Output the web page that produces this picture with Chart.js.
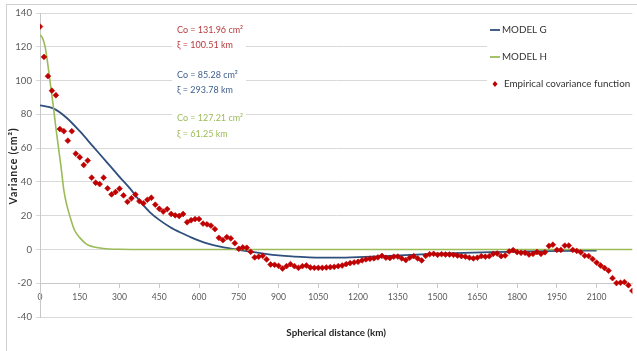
<!DOCTYPE html>
<html>
<head>
<meta charset="utf-8">
<script src="https://cdn.jsdelivr.net/npm/chart.js@4/dist/chart.umd.min.js"></script>
<style>
  html, body { margin: 0; padding: 0; background: #ffffff; }
  #wrap { width: 637px; height: 351px; position: relative; }
</style>
</head>
<body>
<div id="wrap"><canvas id="c" width="637" height="351"></canvas></div>
<script>
// Empirical covariance function: distance (km) and variance (cm^2)
const empDist = [0,15,30,45,60,75,90,105,120,135,150,165,180,195,210,225,240,255,270,285,
  300,315,330,345,360,375,390,405,420,435,450,465,480,495,510,525,540,555,570,585,
  600,615,630,645,660,675,690,705,720,735,750,765,780,795,810,825,840,855,870,885,
  900,915,930,945,960,975,990,1005,1020,1035,1050,1065,1080,1095,1110,1125,1140,1155,1170,1185,
  1200,1215,1230,1245,1260,1275,1290,1305,1320,1335,1350,1365,1380,1395,1410,1425,1440,1455,1470,1485,
  1500,1515,1530,1545,1560,1575,1590,1605,1620,1635,1650,1665,1680,1695,1710,1725,1740,1755,1770,1785,
  1800,1815,1830,1845,1860,1875,1890,1905,1920,1935,1950,1965,1980,1995,2010,2025,2040,2055,2070,2085,
  2100,2115,2130,2145,2160,2175,2190,2205,2220,2235];
const empVar = [131.96,114,102.6,94,91.3,71.3,70,64.4,70,56.7,54.6,50,52.6,42.5,39.5,38.7,42.5,36.2,32.6,34,
  36,32,28.2,30.3,32.5,28.6,27.3,29.4,30.6,26.5,24.1,22.4,23.9,21,20.2,19.8,21,16.1,17.3,18,
  18,15.3,14.9,14.1,12,6.9,5.5,7.3,6.5,3.7,0.4,1.2,1,-1.4,-4.7,-4.3,-3.8,-5.9,-8.9,-9.1,
  -9.7,-11.3,-9.9,-8.7,-9.9,-10.9,-9.9,-9.5,-10.7,-10.9,-10.9,-10.9,-10.7,-10.5,-10.3,-9.9,-9.5,-8.7,-8.1,-7.7,
  -7.3,-6.5,-5.9,-5.5,-5.3,-4.7,-3.8,-4.9,-5.1,-4.3,-4.2,-5.3,-6.3,-4.9,-4,-5.3,-6.5,-3.8,-2.8,-2.6,
  -3.2,-2.8,-3,-3,-3.2,-3.6,-4,-4.3,-4.9,-5.3,-4.9,-4,-4.3,-4,-2.6,-2.4,-4,-3.6,-1.2,-0.4,
  -1.6,-2,-2,-3,-2.6,-1.5,-2.6,-1.7,2.1,2.8,-0.3,-0.3,2.3,2.3,-0.3,-0.9,-1.7,-3.7,-3.9,-5.7,
  -7.8,-9.5,-11,-12.6,-17,-19.9,-19.7,-19.3,-21.2,-24.5];

// MODEL G curve
const gDist = [0,50,100,150,200,250,300,340,380,415,450,490,530,565,600,640,680,720,760,800,
  850,900,950,1000,1050,1100,1150,1200,1300,1400,1500,1600,1700,1800,1900,2000,2100];
const gVar = [85.3,83.5,78,70,61,52,43,36,28,22,17.5,13.3,10,7.5,5.2,3.1,1.6,0.5,-0.5,-1.5,
  -2.6,-3.5,-4.1,-4.5,-4.8,-4.9,-4.8,-4.6,-4.0,-3.2,-2.5,-2.0,-1.6,-1.3,-1.0,-0.8,-0.7];

// MODEL H curve
const hDist = [0,10,20,30,40,50,60,70,80,90,100,115,130,150,175,200,250,300,400,2235];
const hVar = [127.2,125,119.5,109,97,85,72,60,48,35,27,18.5,11.5,7,3.2,1.6,0.4,0.1,0,0];

// Axis ticks
const xTicks = [0,150,300,450,600,750,900,1050,1200,1350,1500,1650,1800,1950,2100];
const yTicks = [-40,-20,0,20,40,60,80,100,120,140];

// Text
const legendLabels = ['MODEL G', 'MODEL H', 'Empirical covariance function'];
const notes = [
  { lines: ['Co = 131.96 cm\u00B2', '\u03BE = 100.51 km'], color: '#b83a3c' },
  { lines: ['Co = 85.28 cm\u00B2', '\u03BE = 293.78 km'], color: '#3f5f8c' },
  { lines: ['Co = 127.21 cm\u00B2', '\u03BE = 61.25 km'], color: '#9bbb59' }
];
const xTitle = 'Spherical distance (km)';
const yTitle = 'Variance (cm\u00B2)';

const BLUE = '#2f4f7c';
const GREEN = '#9bbb59';
const RED = '#c00000';
const FONT = 'Lato, "Open Sans", sans-serif';

const toPts = (xs, ys) => xs.map((x, i) => ({ x: x, y: ys[i] }));

const overlay = {
  id: 'overlay',
  beforeDatasetsDraw(chart) {
    const ctx = chart.ctx;
    ctx.save();
    ctx.fillStyle = '#ffffff';
    const noteY = [[22, 52], [66, 98], [108, 142]];
    noteY.forEach(r => ctx.fillRect(172, r[0], 74, r[1] - r[0]));
    ctx.fillRect(487, 20, 150, 80);
    ctx.restore();
  },
  afterDraw(chart) {
    const ctx = chart.ctx;
    const ca = chart.chartArea;
    ctx.save();
    ctx.strokeStyle = '#d0d0d0';
    ctx.lineWidth = 1;
    ctx.strokeRect(6.5, 4.5, 640, 400);

    ctx.font = '9px ' + FONT;
    ctx.textBaseline = 'middle';
    ctx.textAlign = 'left';
    const lineY = [[30, 45], [75, 90], [118, 134]];
    notes.forEach((n, i) => {
      ctx.fillStyle = n.color;
      ctx.fillText(n.lines[0], 177, lineY[i][0]);
      ctx.fillText(n.lines[1], 177, lineY[i][1]);
    });

    const ly = [30, 57, 84];
    ctx.lineWidth = 1.8;
    ctx.strokeStyle = BLUE;
    ctx.beginPath(); ctx.moveTo(490, ly[0]); ctx.lineTo(500, ly[0]); ctx.stroke();
    ctx.strokeStyle = GREEN;
    ctx.beginPath(); ctx.moveTo(490, ly[1]); ctx.lineTo(500, ly[1]); ctx.stroke();
    ctx.fillStyle = RED;
    ctx.beginPath();
    ctx.moveTo(495, ly[2] - 3); ctx.lineTo(497.5, ly[2]); ctx.lineTo(495, ly[2] + 3); ctx.lineTo(492.5, ly[2]);
    ctx.closePath(); ctx.fill();
    ctx.fillStyle = '#333333';
    ctx.font = '9.8px ' + FONT;
    legendLabels.forEach((t, i) => ctx.fillText(t, i === 2 ? 504 : 502, ly[i]));

    ctx.fillStyle = '#262626';
    ctx.font = 'bold 9.8px ' + FONT;
    ctx.textAlign = 'center';
    ctx.fillText(xTitle, (ca.left + ca.right) / 2, 333);
    ctx.translate(14, 166);
    ctx.rotate(-Math.PI / 2);
    ctx.font = 'bold 10.5px ' + FONT;
    try { ctx.letterSpacing = '0.8px'; } catch (e) {}
    ctx.fillText(yTitle, 0, 0);
    ctx.restore();
  }
};

new Chart(document.getElementById('c'), {
  type: 'scatter',
  data: {
    datasets: [
      {
        label: legendLabels[2],
        data: toPts(empDist, empVar),
        showLine: false,
        pointStyle: 'rectRot',
        pointRadius: 2.9,
        pointBackgroundColor: RED,
        pointBorderColor: RED,
        pointBorderWidth: 0.6,
        order: 0
      },
      {
        label: legendLabels[0],
        data: toPts(gDist, gVar),
        showLine: true,
        borderColor: BLUE,
        borderWidth: 1.8,
        pointRadius: 0,
        cubicInterpolationMode: 'monotone',
        order: 2
      },
      {
        label: legendLabels[1],
        data: toPts(hDist, hVar),
        showLine: true,
        borderColor: GREEN,
        borderWidth: 1.6,
        pointRadius: 0,
        cubicInterpolationMode: 'monotone',
        order: 1
      }
    ]
  },
  options: {
    responsive: false,
    animation: false,
    devicePixelRatio: 1,
    layout: { padding: { top: 13, right: 4, bottom: 34, left: 0 } },
    plugins: { legend: { display: false }, tooltip: { enabled: false } },
    scales: {
      x: {
        type: 'linear',
        min: 0,
        max: 2235,
        position: { y: -20 },
        afterBuildTicks: s => { s.ticks = xTicks.map(v => ({ value: v })); },
        ticks: {
          autoSkip: false,
          maxRotation: 0,
          padding: 5,
          color: '#595959',
          font: { family: FONT, size: 8.6 },
          callback: v => String(v)
        },
        grid: { display: true, drawOnChartArea: false, drawTicks: true, tickLength: 4, color: '#c8c8c8' },
        border: { display: true, color: '#c8c8c8' }
      },
      y: {
        min: -40,
        max: 140,
        afterBuildTicks: s => { s.ticks = yTicks.map(v => ({ value: v })); },
        afterFit: s => { s.width = 40; },
        ticks: {
          padding: 4,
          color: '#595959',
          font: { family: FONT, size: 9.6 },
          callback: v => String(v)
        },
        grid: { color: '#d9d9d9', tickLength: 4 },
        border: { display: true, color: '#c8c8c8' }
      }
    }
  },
  plugins: [overlay]
});
</script>
</body>
</html>
